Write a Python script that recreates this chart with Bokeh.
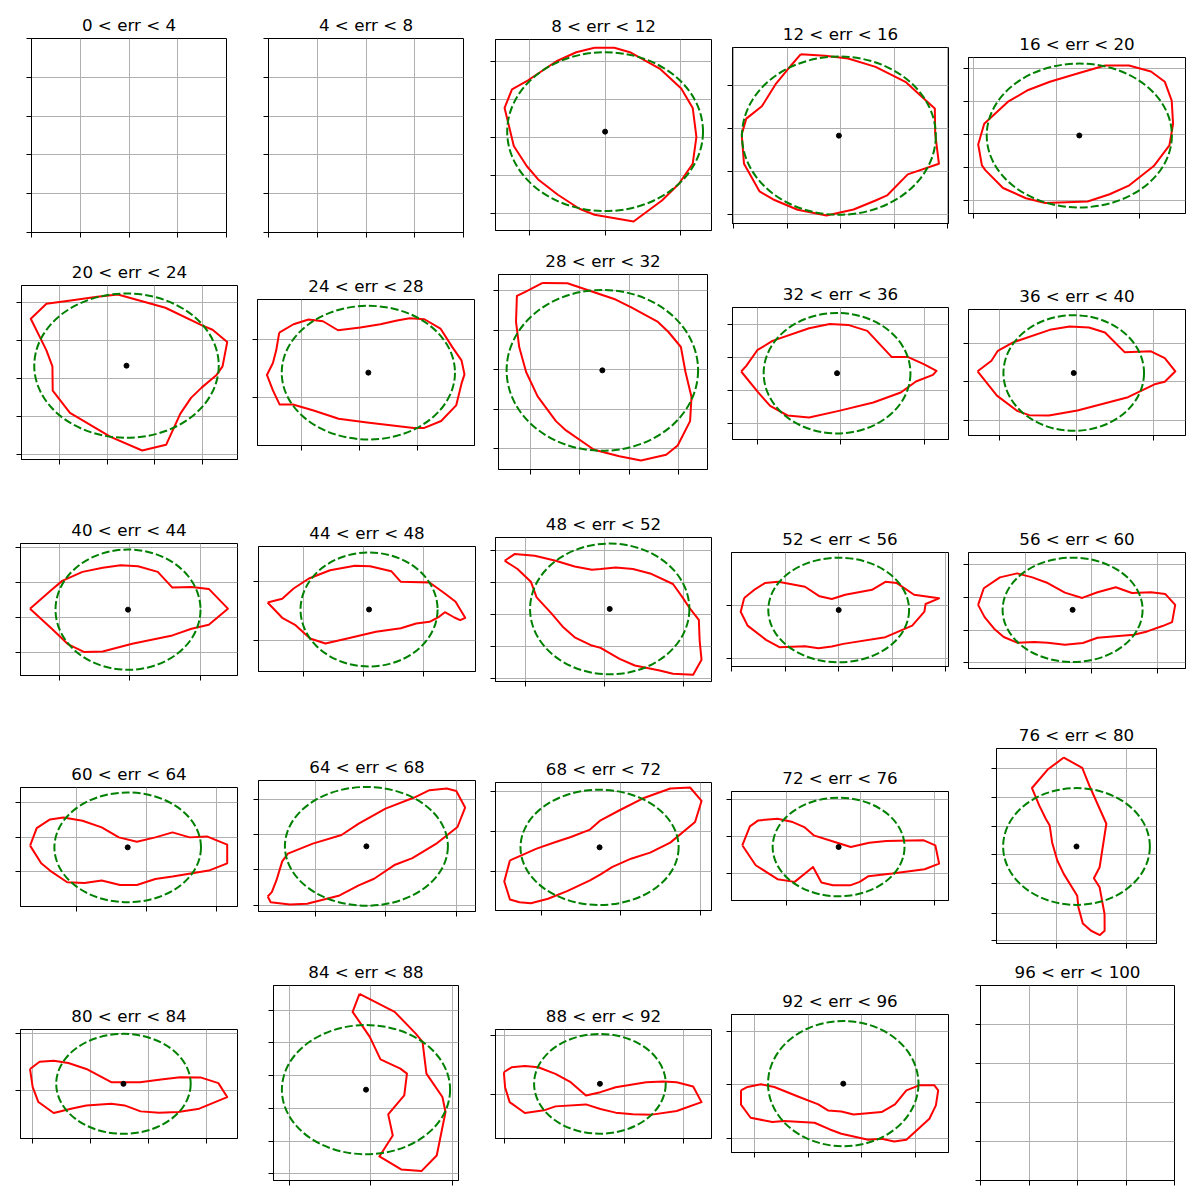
from bokeh.plotting import figure
from bokeh.layouts import column, row
from bokeh.models import FixedTicker, Range1d, Spacer, CustomJSTickFormatter
from bokeh.embed import file_html
from bokeh.resources import INLINE

# ---------------- data (offsets from the bin mean, in plot units) ----------------
bin_lo = [0, 4, 8, 12, 16, 20, 24, 28, 32, 36, 40, 44, 48, 52, 56, 60, 64, 68, 72, 76, 80, 84, 88, 92, 96]
titles = [f"{lo} < err < {lo + 4}" for lo in bin_lo]

p03_x = [-10.6, 9.2, 25.7, 54.6, 76.2, 87.7, 91.4, 87.7, 73.9, 56.9, 28.5, -10.6, -25.7, -47.3, -67.0, -78.5, -91.4, -100.6, -93.2, -77.1, -48.7, -28.9]
p03_y = [83.7, 83.7, 79, 63, 43, 23.7, -5.3, -32, -52, -68.7, -89.7, -83, -77, -63, -47.7, -34.3, -14.3, 23.7, 42.3, 51.3, 70.3, 79.3]
p04_x = [-38.1, -13.8, 9.2, 36.7, 66.6, 84.9, 96.0, 96.4, 100.1, 68.9, 48.2, 36.7, 14.7, -12.4, -41.3, -65.7, -79.4, -95.0, -97.3, -92.7, -77.1, -62.9, -47.7]
p04_y = [81.3, 79.7, 77, 68.7, 53.7, 37, 27, 2, -28, -38.7, -59.7, -64.7, -73.7, -79.7, -74, -63.7, -55.7, -28, 1.3, 17, 29.3, 52, 70.3]
p05_x = [25.7, 49.6, 71.6, 85.4, 92.3, 93.7, 90.0, 74.4, 50.0, 30.3, 8.3, -34.0, -53.3, -76.2, -93.7, -97.3, -101.0, -95.0, -70.7, -51.0, -29.4, -1.8]
p05_y = [70.3, 70.3, 64.3, 54, 35, 11.7, -10, -30.7, -50, -59, -66.3, -67.7, -63, -52.7, -35, -30, -9, 11.7, 34.3, 45.7, 54, 62.3]
p06_x = [-8.7, 39.0, 75.7, 86.3, 101.0, 96.3, 90.0, 75.3, 64.7, 54.0, 39.7, 15.7, -16.0, -56.7, -74.0, -74.3, -80.3, -96.0, -80.3, -56.0, -29.3]
p06_y = [71.3, 58, 40.3, 36, 23.7, -0.7, -9.7, -22, -32.3, -48, -79.3, -85, -71.3, -47.3, -25, -0.7, 15.3, 47, 62, 65.3, 69]
p07_x = [-89.0, -74.7, -59.7, -45.3, -30.3, -8.0, 12.0, 28.7, 41.3, 56.0, 72.0, 83.7, 93.0, 96.0, 93.0, 87.7, 72.7, 55.3, 45.3, -1.3, -29.7, -54.7, -75.3, -88.7, -95.3, -101.3, -95.3, -92.0]
p07_y = [40, 48.3, 53, 51.3, 42.3, 45, 48.3, 52, 54.3, 53.3, 44, 25.7, 12.3, -1.7, -11, -32.7, -48.3, -55.3, -55.3, -49.7, -46, -37.7, -31.7, -31.7, -17.7, -2.3, 9.7, 22.3]
p08_x = [-59.7, -34.9, 13.3, 29.4, 55.6, 66.1, 78.5, 83.1, 89.1, 87.7, 75.3, 63.8, 38.6, 17.0, -8.3, -36.3, -46.4, -64.7, -76.2, -83.1, -86.3, -85.4, -78.5]
p08_y = [87.3, 87, 70.7, 62.7, 48.3, 38.3, 23.3, -1.7, -26.7, -50.7, -75, -84.3, -90, -85.7, -79.3, -60, -50.7, -26, -1.7, 23.3, 48.3, 74.3, 77.7]
p09_x = [-96.0, -90.9, -79.9, -64.7, -28.0, -7.3, 11.0, 30.3, 54.6, 70.7, 86.8, 99.6, 96.0, 79.0, 63.8, 36.3, 1.8, -28.0, -49.6, -67.0, -79.4]
p09_y = [1.7, 7.3, 23, 32.3, 45, 49.3, 48.3, 42.3, 16.3, 16.3, 9, 2.3, -1.7, -8.3, -19.3, -29.3, -37.7, -44.3, -42.3, -32.7, -18.7]
p10_x = [-96.0, -82.2, -75.8, -60.6, -23.9, -4.1, 15.2, 31.2, 51.0, 77.1, 90.9, 101.5, 90.9, 81.7, 54.2, 3.7, -24.8, -44.5, -56.0, -76.7]
p10_y = [1.7, 12.3, 22.3, 30.7, 43.3, 46.7, 45.7, 40.7, 20.7, 21.7, 15, 1.7, -8.7, -11, -24.3, -37.7, -42.7, -42.3, -38.3, -22.7]
p11_x = [-98.0, -76.9, -65.8, -45.5, -25.3, -7.3, 10.0, 29.8, 44.4, 63.5, 80.8, 99.9, 80.8, 63.5, 44.4, 4.2, -25.3, -43.6, -59.7, -76.2]
p11_y = [1, 19.3, 28.7, 37.7, 41.7, 44.3, 43.3, 37.7, 22, 22.7, 20.7, 1, -15, -19, -25.7, -34, -41.7, -42.3, -34.7, -19]
p12_x = [-101.4, -86.8, -75.4, -60.1, -39.0, -14.2, 1.1, 22.2, 31.8, 60.5, 75.8, 86.5, 96.1, 91.1, 85.3, 75.8, 70.0, 60.5, 47.1, 31.8, 6.9, -21.8, -43.6, -58.9, -73.5, -86.8]
p12_y = [7, 10.7, 21, 31, 39.3, 43.7, 43.3, 38.3, 27.7, 27, 16, 7.7, -8.3, -10.7, -8, -2.7, -7.3, -12.3, -14, -18.7, -22.3, -29, -34, -29, -15.7, -8.3]
p13_x = [-105.5, -95.6, -75.3, -54.3, -35.2, -17.9, -9.2, 6.1, 23.3, 40.6, 63.5, 73.1, 80.8, 89.5, 90.3, 92.2, 83.8, 63.5, 50.1, 25.2, 9.9, -9.2, -17.9, -35.2, -46.6, -58.1, -73.4, -79.2, -92.6]
p13_y = [48.3, 55, 53.3, 48.3, 42.6, 39.3, 40, 41.6, 40, 35.6, 25, 11.6, 0, -11, -31.7, -51, -66, -65, -61.7, -56.7, -50, -39, -36.7, -28.4, -18.4, -5, 11.6, 27.3, 40]
p14_x = [-94.5, -83.4, -73.8, -60.4, -33.7, -19.1, -6.9, 6.5, 33.3, 46.7, 58.2, 75.4, 100.3, 86.9, 85.7, 73.5, 46.7, 4.6, -6.9, -20.3, -33.7, -59.3, -72.7, -91.1, -98.0]
p14_y = [12, 21, 27, 28.3, 23.3, 13.7, 11, 15.3, 20.3, 28.3, 27, 15.3, 11.7, 6, -1.7, -15.7, -27.3, -34, -36.7, -38.3, -36.3, -37.3, -30, -15.7, -1.7]
p15_x = [-94.5, -88.8, -72.7, -55.5, -40.2, -24.9, -7.7, 9.6, 24.9, 43.2, 59.3, 78.5, 92.6, 102.6, 99.5, 89.9, 74.6, 61.2, 24.9, 10.3, -7.7, -24.9, -38.3, -55.5, -68.9, -78.5, -88.0]
p15_y = [5, 21.7, 32.7, 36.7, 32.7, 27, 17.3, 12, 17.7, 22.7, 17, 17.7, 16, 5, -12.3, -16.3, -21.7, -25, -28, -33.3, -35, -33, -32.3, -33, -27.3, -19, -7.3]
p16_x = [-97.6, -91.0, -77.7, -64.3, -45.2, -26.0, -8.8, 9.2, 27.6, 44.8, 62.0, 79.2, 99.5, 99.5, 81.1, 44.8, 27.6, 9.2, -7.7, -26.0, -43.2, -60.5, -77.7, -86.5]
p16_y = [1.7, 19.3, 28, 30, 26.7, 20, 10, 5.7, 10, 15, 10, 11, 2.7, -16, -23.3, -29.3, -31.7, -37.7, -37.7, -33.3, -35.7, -35, -23.3, -16]
p17_x = [-98.7, -95.7, -76.5, -59.3, -26.8, -7.7, 7.7, 28.7, 46.0, 70.8, 91.1, 98.7, 89.9, 80.4, 63.1, 47.8, 19.1, -7.7, -24.9, -53.6, -78.5, -84.2, -90.0, -94.6]
p17_y = [-50, -55.7, -58, -57.3, -49, -39, -32.3, -18.3, -11.7, 3.3, 19.3, 38.7, 55.3, 57.7, 56, 48.7, 37.7, 22.7, 11.3, 2.7, -7.3, -15, -34, -45.7]
p18_x = [-90.0, -95.7, -90.0, -80.4, -69.0, -51.7, -32.6, -9.6, 1.0, 12.5, 31.6, 50.8, 71.0, 95.9, 102.4, 90.9, 71.0, 43.1, 20.1, 1.0, -9.6, -28.8, -44.1, -63.2, -78.5]
p18_y = [-13, -34, -52, -54.7, -55.7, -51.3, -43.7, -33, -27, -19.7, -11.3, -5.3, 4.7, 25.3, 46.3, 59.7, 58.7, 48.7, 37, 27, 17.7, 10.3, 5.3, -1.3, -8]
p19_x = [-96.4, -88.8, -80.4, -61.2, -45.9, -34.4, -24.9, -3.8, 12.2, 30.6, 47.8, 85.3, 96.8, 100.6, 86.1, 53.6, 29.9, 21.1, 12.2, -5.7, -17.2, -25.6, -44.0, -61.2, -83.0]
p19_y = [1.7, 20.7, 26.7, 28.3, 25, 20, 11.7, 5, 0, 4.3, 6, 6.7, 1.7, -16.7, -22.3, -26.7, -29.3, -35, -38.3, -38.3, -35.7, -20, -35, -32.3, -18.3]
p20_x = [-12.6, 5.7, 13.4, 29.7, 23.0, 17.3, 23.0, 27.9, 28.0, 23.3, 14.5, 6.3, 1.9, 0.7, -12.7, -19.1, -24.3, -26.7, -30.6, -37.1, -44.3, -28.7]
p20_y = [88.7, 78.3, 59.3, 22.7, -20.7, -31.7, -40.7, -67.3, -84.0, -88.3, -84.0, -76.7, -60.7, -49.0, -27.3, -14.0, 4.3, 21.0, 27.7, 41.0, 58.3, 76.7]
p21_x = [-93.4, -83.8, -69.7, -55.1, -37.1, -12.2, 16.5, 37.5, 56.7, 77.7, 94.9, 103.7, 75.8, 54.7, 35.6, 17.2, 1.1, -12.2, -37.1, -52.4, -69.7, -85.0, -90.7]
p21_y = [15, 22.3, 23.3, 21, 15, 1.7, 1.7, 4.3, 6.7, 6.3, 0.7, -13.3, -25, -28.3, -29, -27.7, -21.7, -20, -21.7, -25, -29.3, -18.3, -3.3]
p22_x = [-6.5, 28.7, 49.8, 56.6, 60.5, 76.5, 79.6, 70.8, 55.5, 35.2, 13.4, 26.8, 22.2, 38.3, 41.0, 34.4, 14.5, 3.8, -13.4]
p22_y = [95.7, 77.7, 56, 47.7, 16, -7.3, -22.3, -65.7, -81.3, -79.7, -66.7, -45.7, -24.7, -5.7, 16, 21, 30.3, 52.7, 77.7]
p23_x = [-96.3, -88.6, -75.2, -61.8, -44.6, -29.3, -14.0, 0.5, 15.8, 46.4, 63.6, 77.0, 93.5, 101.9, 77.0, 52.2, 33.0, 15.8, 0.5, -14.0, -44.6, -56.1, -75.2, -90.5, -95.1]
p23_y = [11.6, 16.6, 18, 16.6, 10, 1.6, -11.7, -8.4, -3.4, 1.6, 2.3, 1.6, -2.7, -18.4, -27.4, -31, -30.7, -29, -25.4, -20.7, -22.7, -26.7, -29.4, -18.4, -3.4]
p24_x = [-102.2, -95.7, -82.3, -68.9, -44.0, -24.9, -15.3, -1.9, 10.3, 38.3, 51.7, 63.1, 75.8, 91.1, 94.9, 92.6, 86.1, 63.1, 50.9, 38.3, 24.9, -1.9, -13.4, -28.7, -59.3, -70.8, -92.6, -102.2]
p24_y = [-6.7, -3.3, -0.7, -3.3, -13.3, -20.7, -26.7, -27.7, -30.7, -28.3, -20.7, -6.7, -1.7, -1.7, -6.7, -21.7, -35, -56, -57.7, -55, -56, -50, -45.7, -39, -37.3, -38.3, -34, -21]

contour_x = [None, None, p03_x, p04_x, p05_x, p06_x, p07_x, p08_x, p09_x, p10_x, p11_x, p12_x, p13_x,
             p14_x, p15_x, p16_x, p17_x, p18_x, p19_x, p20_x, p21_x, p22_x, p23_x, p24_x, None]
contour_y = [None, None, p03_y, p04_y, p05_y, p06_y, p07_y, p08_y, p09_y, p10_y, p11_y, p12_y, p13_y,
             p14_y, p15_y, p16_y, p17_y, p18_y, p19_y, p20_y, p21_y, p22_y, p23_y, p24_y, None]

# fitted ellipse semi-axes (centre = bin mean at 0,0)
ell_rx = [None, None, 98.0, 97.0, 92.5, 92.5, 86.5, 95.7, 73.5, 70.2, 72.5, 68.5, 80.0, 70.4, 70.0,
          73.3, 81.5, 79.4, 66.0, 73.0, 67.2, 84.2, 66.0, 75.2, None]
ell_ry = [None, None, 79.3, 79.0, 72.2, 72.3, 66.7, 80.3, 60.2, 58.0, 60.0, 57.0, 65.5, 52.5, 52.5,
          55.0, 59.3, 57.5, 49.5, 58.2, 50.3, 64.5, 50.2, 62.5, None]

# axis limits
xlims = [(0, 1), (0, 1), (-109.7, 106.5), (-106.5, 109.7), (-110.7, 106.1), (-105.3, 111.3), (-110.7, 106.0),
         (-103.8, 105.1), (-104.7, 111.6), (-105.1, 111.6), (-107.5, 109.5), (-110.5, 106.4), (-114.7, 102.2),
         (-107.2, 109.8), (-104.1, 112.9), (-107.2, 109.8), (-107.9, 109.1), (-104.5, 112.4), (-107.2, 110.0),
         (-79.6, 79.6), (-102.9, 114.0), (-92.6, 92.6), (-104.7, 111.9), (-111.7, 105.2), (0, 1)]
ylims = [(0, 1), (0, 1), (-98.7, 92.0), (-87.7, 88.0), (-78.3, 78.3), (-94.0, 80.3), (-72.7, 73.0),
         (-99.0, 95.7), (-66.3, 65.7), (-62.7, 63.7), (-65.7, 66.0), (-62.0, 63.0), (-72.7, 71.6),
         (-56.7, 57.7), (-59.0, 57.7), (-59.3, 60.0), (-65.0, 65.7), (-63.0, 64.7), (-53.7, 55.7),
         (-96.7, 97.7), (-55.0, 54.7), (-90.7, 104.0), (-55.0, 54.6), (-68.7, 69.0), (0, 1)]

# tick positions
q4 = [0, 0.25, 0.5, 0.75, 1]
q5 = [0, 0.2, 0.4, 0.6, 0.8, 1]
xticks = [q4, q4, [-75.8, 0, 75.8], [-105.2, -51.7, 1.8, 55.3, 108.8], [-105.6, -22.5, 60.6],
          [-66.9, -19.3, 28.3, 75.9], [-66.5, -8.7, 49.1], [-71.8, -22.5, 26.8, 76.1], [-79.8, 3.7, 87.2],
          [-74.2, 2.8, 79.8], [-69.0, 1.5, 72.0], [-65.7, -5.7, 54.3], [-84.8, -5.3, 74.2],
          [-106.8, -53.4, 0, 53.4, 106.8], [-47.2, 18.8, 84.8], [-50.9, 19.1, 89.1], [-50.9, 19.5, 89.9],
          [-58.7, 21.3, 101.3], [-52.2, 21.8, 95.8], [-20.3, 50.0], [-90.5, -32.5, 25.5, 83.5],
          [-76.7, 5.0, 86.7], [-95.8, -35.8, 24.2, 84.2], [-88.4, -35.0, 18.4, 71.8], q4]
yticks = [q5, q5, [-81.7, -43.8, -5.9, 32.0, 69.9], [-78.7, -35.7, 7.3, 50.3], [-65.7, -32.5, 0.7, 33.9, 67.1],
          [-88.7, -50.7, -12.7, 25.3, 63.3], [-24.7, 33.0], [-77.9, -38.6, 0.7, 40.0, 79.3],
          [-50.4, -17.2, 16.0, 49.2], [-47.2, -8.7, 29.8], [-43.0, -8.0, 27.0, 62.0], [-31.0, 28.3],
          [-69.5, -37.6, -5.7, 26.2, 58.1], [-49.0, 5.0], [-53.3, -20.3, 12.7, 45.7], [-24.7, 10.3, 45.3],
          [-58.7, -23.5, 11.7, 46.9], [-24.3, 15.7, 55.7], [-26.7, 10.3, 47.3],
          [-94.0, -66.3, -37.0, -8.3, 19.7, 48.7, 77.7], [-7.0, 51.0], [-84.1, -51.4, -18.7, 14.0, 46.7, 79.4],
          [-11.0, 49.0], [-54.3, -1.0, 52.3], q5]

# ---------------- layout (frame box in page pixels: left, top, width, height) ----------------
frames = [(31, 38, 195, 194), (268, 38, 195, 194), (495, 39, 216, 191), (732, 47, 216, 176), (968, 57, 217, 156),
          (21, 285, 216, 174), (257, 299, 217, 146), (498, 274, 209, 195), (732, 307, 216, 132), (968, 309, 217, 126),
          (20, 543, 217, 132), (258, 546, 217, 125), (495, 537, 216, 144), (731, 552, 217, 114), (968, 552, 217, 116),
          (20, 787, 217, 119), (258, 780, 217, 131), (495, 782, 216, 128), (731, 791, 217, 109), (996, 748, 160, 195),
          (20, 1029, 217, 109), (273, 985, 185, 195), (495, 1029, 216, 109), (731, 1014, 217, 138), (980, 985, 194, 195)]
row_bounds = [(0, 240), (240, 485), (485, 695), (695, 951), (951, 1200)]
B_L, B_R, B_T, B_B = 12, 4, 34, 8     # identical plot borders for every panel
FONT = "DejaVu Sans"


def make_panel(i):
    left, top, w, h = frames[i]
    p = figure(frame_width=w, frame_height=h,
               x_range=Range1d(*xlims[i]), y_range=Range1d(*ylims[i]),
               output_backend="svg", toolbar_location=None, title=titles[i],
               min_border_left=B_L, min_border_right=B_R,
               min_border_top=B_T, min_border_bottom=B_B)
    p.title.align = "center"
    p.title.text_font = FONT
    p.title.text_font_size = "16.7px"
    p.title.text_font_style = "normal"
    p.title.text_color = "black"
    p.title.standoff = 8
    p.background_fill_color = "white"
    p.border_fill_color = "white"
    p.outline_line_color = "black"
    p.outline_line_width = 1
    p.outline_line_alpha = 1
    for ax, tk in ((p.xaxis, xticks[i]), (p.yaxis, yticks[i])):
        ax.ticker = FixedTicker(ticks=tk)
        ax.formatter = CustomJSTickFormatter(code="return ''")
        ax.major_label_text_font_size = "1px"
        ax.major_label_standoff = 0
        ax.major_tick_out = 5
        ax.major_tick_in = 0
        ax.major_tick_line_color = "black"
        ax.major_tick_line_width = 1
        ax.minor_tick_line_color = None
        ax.axis_line_color = "black"
        ax.axis_line_width = 1
    p.xgrid.ticker = FixedTicker(ticks=xticks[i])
    p.ygrid.ticker = FixedTicker(ticks=yticks[i])
    for g in (p.xgrid, p.ygrid):
        g.grid_line_color = "#b0b0b0"
        g.grid_line_width = 1
        g.grid_line_alpha = 1

    if contour_x[i] is not None:
        xs = contour_x[i] + [contour_x[i][0]]
        ys = contour_y[i] + [contour_y[i][0]]
        p.line(xs, ys, line_color="red", line_width=2, line_join="round")
        p.ellipse(x=[0], y=[0], width=[2 * ell_rx[i]], height=[2 * ell_ry[i]],
                  fill_color=None, line_color="green", line_width=2, line_dash="8 3")
        p.scatter([0], [0], size=5, color="black")
    return p


rows = []
for r in range(5):
    r_top, r_bot = row_bounds[r]
    items = []
    prev_right = 0
    for c in range(5):
        i = r * 5 + c
        left, top, w, h = frames[i]
        fig_left = left - B_L
        if fig_left - prev_right > 0:
            items.append(Spacer(width=fig_left - prev_right, height=1))
        fig = make_panel(i)
        cell_w = w + B_L + B_R
        dy_top = max(top - B_T - r_top, 0)
        dy_bot = max(r_bot - (top + h + B_B), 0)
        items.append(column(Spacer(width=cell_w, height=dy_top), fig,
                            Spacer(width=cell_w, height=dy_bot), spacing=0))
        prev_right = left + w + B_R
    rows.append(row(*items, spacing=0))

layout = column(*rows, spacing=0)
open("out.html", "w").write(file_html(layout, INLINE))
